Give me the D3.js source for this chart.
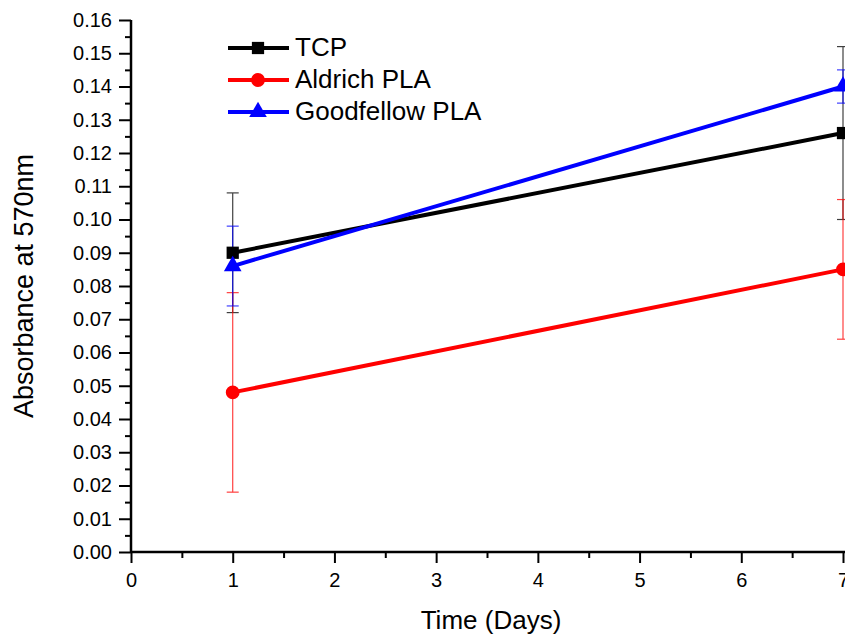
<!DOCTYPE html>
<html>
<head>
    <title>absorbance</title>
    <script src="https://d3js.org/d3.v7.min.js"></script>
    <style>
        body { margin: 0; overflow: hidden; background: #fff; }
        text { font-family: "Liberation Sans", Arial, sans-serif; }
    </style>
</head>
<body>
    <svg width="845" height="637" id="mainsvg"></svg>
    <script>
        // data
        const days = [1, 7];
        const seriesNames = ['TCP', 'Aldrich PLA', 'Goodfellow PLA'];
        const seriesColors = ['#000000', '#ff0000', '#0000ff'];
        const tcpMean = [0.090, 0.126];
        const tcpErr = [0.018, 0.026];
        const aldrichMean = [0.048, 0.085];
        const aldrichErr = [0.030, 0.021];
        const goodfellowMean = [0.086, 0.140];
        const goodfellowErr = [0.012, 0.005];
        const xTicks = [0, 1, 2, 3, 4, 5, 6, 7];
        const yTicks = d3.range(0, 0.1601, 0.01);

        const series = [
            { name: seriesNames[0], color: seriesColors[0], mean: tcpMean, err: tcpErr, sym: d3.symbolSquare, size: 150 },
            { name: seriesNames[1], color: seriesColors[1], mean: aldrichMean, err: aldrichErr, sym: d3.symbolCircle, size: 150 },
            { name: seriesNames[2], color: seriesColors[2], mean: goodfellowMean, err: goodfellowErr, sym: d3.symbolTriangle, size: 135 }
        ];

        const svg = d3.select('#mainsvg');
        const x = d3.scaleLinear().domain([0, 7]).range([131, 843]);
        const y = d3.scaleLinear().domain([0, 0.16]).range([552, 20]);

        const g = svg.append('g');

        // error bars first, then lines and markers
        series.forEach(s => {
            const eb = g.append('g').attr('stroke', s.color).attr('stroke-width', 1.2).attr('opacity', 0.75);
            days.forEach((d, i) => {
                const cx = x(d), hi = y(s.mean[i] + s.err[i]), lo = y(s.mean[i] - s.err[i]);
                eb.append('line').attr('x1', cx).attr('x2', cx).attr('y1', hi).attr('y2', lo);
                eb.append('line').attr('x1', cx - 6).attr('x2', cx + 6).attr('y1', hi).attr('y2', hi);
                eb.append('line').attr('x1', cx - 6).attr('x2', cx + 6).attr('y1', lo).attr('y2', lo);
            });
        });

        const line = d3.line().x(d => x(d[0])).y(d => y(d[1]));
        series.forEach(s => {
            const pts = days.map((d, i) => [d, s.mean[i]]);
            g.append('path').datum(pts).attr('d', line)
                .attr('fill', 'none').attr('stroke', s.color).attr('stroke-width', 4);
            g.selectAll(null).data(pts).enter().append('path')
                .attr('d', d3.symbol().type(s.sym).size(s.size))
                .attr('transform', d => `translate(${x(d[0])},${y(d[1])})`)
                .attr('fill', s.color);
        });

        // axes
        const yAxis = g.append('g').attr('transform', 'translate(131,0)')
            .call(d3.axisLeft(y).tickValues(yTicks).tickFormat(d3.format('.2f')).tickSize(12).tickPadding(7));
        g.append('g').attr('transform', 'translate(131,0)')
            .call(d3.axisLeft(y).tickValues(d3.range(0.005, 0.16, 0.01)).tickFormat('').tickSize(6))
            .call(a => a.select('.domain').remove());
        const xAxis = g.append('g').attr('transform', 'translate(0,552)')
            .call(d3.axisBottom(x).tickValues(xTicks).tickFormat(d3.format('d')).tickSize(11).tickPadding(10));
        g.append('g').attr('transform', 'translate(0,552)')
            .call(d3.axisBottom(x).tickValues(d3.range(0.5, 7, 1)).tickFormat('').tickSize(6))
            .call(a => a.select('.domain').remove());

        g.selectAll('.domain').attr('stroke-width', 2.5);
        g.selectAll('.tick line').attr('stroke-width', 2);
        yAxis.selectAll('text').attr('font-size', 20).attr('fill', '#000');
        xAxis.selectAll('text').attr('font-size', 20).attr('fill', '#000');
        yAxis.select('.domain').attr('d', `M0,${y(0.16)}V${y(0)}`);
        xAxis.select('.domain').attr('d', `M${x(0)},0H${x(7) + 5}`);

        // axis titles
        svg.append('text').attr('x', 491).attr('y', 629).attr('text-anchor', 'middle')
            .attr('font-size', 26).text('Time (Days)');
        svg.append('text').attr('transform', 'translate(33,286) rotate(-90)').attr('text-anchor', 'middle')
            .attr('font-size', 27).text('Absorbance at 570nm');

        // legend
        const leg = svg.append('g');
        series.forEach((s, i) => {
            const ly = 48 + i * 32;
            leg.append('line').attr('x1', 228).attr('x2', 289).attr('y1', ly).attr('y2', ly)
                .attr('stroke', s.color).attr('stroke-width', 4);
            leg.append('path').attr('d', d3.symbol().type(s.sym).size(s.size))
                .attr('transform', `translate(258,${ly})`).attr('fill', s.color);
            leg.append('text').attr('x', 295).attr('y', ly + 8).attr('font-size', 26).text(s.name);
        });
    </script>
</body>
</html>
